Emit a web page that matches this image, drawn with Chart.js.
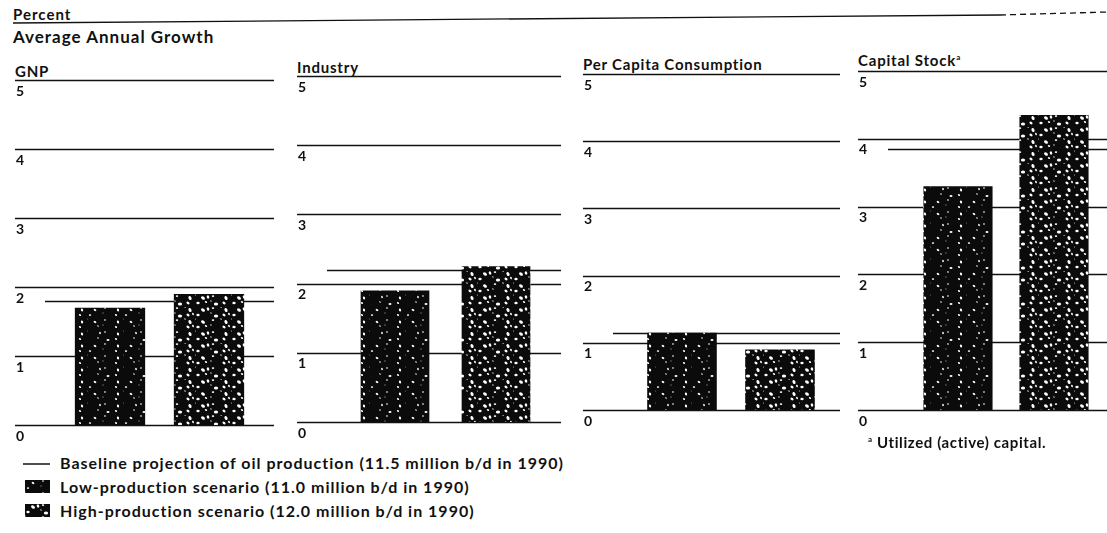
<!DOCTYPE html>
<html>
<head>
<meta charset="utf-8">
<script src="https://cdn.jsdelivr.net/npm/chart.js@4.4.1/dist/chart.umd.min.js"></script>
<style>
  html, body { margin: 0; padding: 0; background: #fff; }
  body { width: 1107px; height: 533px; position: relative; overflow: hidden; font-family: Lato, "DejaVu Sans", sans-serif; font-weight: bold; color: #111; }
  .t { position: absolute; white-space: nowrap; line-height: 1; }
  .leg { font-size: 16px; letter-spacing: 1px; }
  canvas.panel { position: absolute; top: 55px; }
  svg { position: absolute; left: 0; top: 0; }
  sup { font-size: 8px; vertical-align: 6px; }
</style>
</head>
<body>
<svg width="1107" height="533">
  <line x1="13" y1="23" x2="1000" y2="15" stroke="#111" stroke-width="1.3" />
  <line x1="1000" y1="15" x2="1107" y2="12" stroke="#111" stroke-width="1.3" stroke-dasharray="6 4" />
  <line x1="23" y1="464" x2="50" y2="464" stroke="#111" stroke-width="1.5" />
</svg>

<div class="t" style="left:13px; top:7px; font-size:15px; letter-spacing:1px;">Percent</div>
<div class="t" style="left:13px; top:28px; font-size:17px; letter-spacing:1px;">Average Annual Growth</div>

<div id="titles"></div>

<canvas class="panel" id="p0"></canvas>
<canvas class="panel" id="p1"></canvas>
<canvas class="panel" id="p2"></canvas>
<canvas class="panel" id="p3"></canvas>

<canvas id="swLow" width="25" height="13" style="position:absolute; left:25px; top:480px;"></canvas>
<canvas id="swHigh" width="25" height="13" style="position:absolute; left:25px; top:504px;"></canvas>
<div class="t leg" style="left:60px; top:455px;">Baseline projection of oil production (11.5 million b/d in 1990)</div>
<div class="t leg" style="left:60px; top:479px;">Low-production scenario (11.0 million b/d in 1990)</div>
<div class="t leg" style="left:60px; top:503px;">High-production scenario (12.0 million b/d in 1990)</div>

<div class="t" style="left:868px; top:435px; font-size:15px; letter-spacing:0.6px;"><sup>a</sup> Utilized (active) capital.</div>

<script>
// Average annual growth, percent
const panelTitles = ['GNP', 'Industry', 'Per Capita Consumption', 'Capital Stock'];
const scenarios = ['Low-production', 'High-production'];
const lowProduction = [1.7, 1.9, 1.15, 3.3];
const highProduction = [1.9, 2.25, 0.9, 4.35];
const baselineProjection = [1.8, 2.2, 1.15, 3.85];
const yTicks = [0, 1, 2, 3, 4, 5];

// page layout of each panel (the scan is a little skewed, so each one differs)
const panelLayout = [
  { left: 15,  width: 259, titleTop: 64, pad: { left: 45.5, right: 15.5, top: 25, bottom: 20 }, bar: 0.71 },
  { left: 297, width: 264, titleTop: 60, pad: { left: 47.5, right: 14.5, top: 21, bottom: 23 }, bar: 0.68 },
  { left: 583, width: 257, titleTop: 57, pad: { left: 50,   right: 11,   top: 19, bottom: 35 }, bar: 0.71 },
  { left: 858, width: 249, titleTop: 53, pad: { left: 52,   right: 5,    top: 16, bottom: 35 }, bar: 0.72 },
];

// speckled black fill like the printed bars
function speckle(skip, r0, dr) {
  const c = document.createElement('canvas');
  c.width = 36; c.height = 36;
  const g = c.getContext('2d');
  g.fillStyle = '#0b0b0b';
  g.fillRect(0, 0, 36, 36);
  g.fillStyle = '#fff';
  for (let r = 0; r < 6; r++) {
    for (let k = 0; k < 6; k++) {
      const n = r * 6 + k;
      if ((n * 11) % 7 < skip) continue;
      const x = k * 6 + (r % 2) * 3 + ((n * 5) % 3);
      const y = r * 6 + ((n * 7) % 4);
      const rad = r0 + ((n * 3) % 4) * dr;
      g.beginPath();
      g.ellipse(x, y, rad, rad * 0.7, (n % 3) * 0.6, 0, Math.PI * 2);
      g.fill();
    }
  }
  return g.createPattern(c, 'repeat');
}

const lowFill = speckle(3, 0.6, 0.3);
const highFill = speckle(1, 0.8, 0.45);

function fillSwatch(id, pat) {
  const g = document.getElementById(id).getContext('2d');
  g.fillStyle = pat;
  g.fillRect(0, 0, 25, 13);
}
fillSwatch('swLow', lowFill);
fillSwatch('swHigh', highFill);

// gridlines, baseline and tick labels drawn from the y scale
const gridPlugin = {
  id: 'gridPlugin',
  beforeDatasetsDraw(chart) {
    const { ctx, scales: { y } } = chart;
    const i = chart.options.panelIndex;
    ctx.save();
    ctx.strokeStyle = '#111';
    ctx.lineWidth = 1.4;
    yTicks.forEach(v => {
      const py = Math.round(y.getPixelForValue(v)) + 0.5;
      ctx.beginPath();
      ctx.moveTo(0, py);
      ctx.lineTo(chart.width, py);
      ctx.stroke();
    });
    const by = Math.round(y.getPixelForValue(baselineProjection[i])) + 0.5;
    ctx.beginPath();
    ctx.moveTo(30, by);
    ctx.lineTo(chart.width, by);
    ctx.stroke();
    ctx.restore();
  },
  afterDraw(chart) {
    const { ctx, scales: { y } } = chart;
    ctx.save();
    ctx.fillStyle = '#111';
    ctx.font = 'bold 14px Lato';
    ctx.textAlign = 'left';
    ctx.textBaseline = 'top';
    yTicks.forEach(v => {
      ctx.fillText(String(v), 1, y.getPixelForValue(v) + 4);
    });
    ctx.restore();
  },
};

const titles = document.getElementById('titles');
panelTitles.forEach((name, i) => {
  const lay = panelLayout[i];
  const d = document.createElement('div');
  d.className = 't';
  d.style.left = lay.left + 'px';
  d.style.top = lay.titleTop + 'px';
  d.style.fontSize = '15px';
  d.style.letterSpacing = '0.8px';
  d.innerHTML = name + (i === 3 ? '<sup>a</sup>' : '');
  titles.appendChild(d);

  const cv = document.getElementById('p' + i);
  cv.width = lay.width;
  cv.height = 390;
  cv.style.left = lay.left + 'px';

  new Chart(cv, {
    type: 'bar',
    data: {
      labels: scenarios,
      datasets: [{
        data: [lowProduction[i], highProduction[i]],
        backgroundColor: [lowFill, highFill],
        borderWidth: 0,
        categoryPercentage: 1,
        barPercentage: lay.bar,
      }],
    },
    options: {
      panelIndex: i,
      responsive: false,
      animation: false,
      layout: { padding: lay.pad },
      scales: {
        x: { display: false },
        y: { display: false, min: 0, max: 5 },
      },
      plugins: {
        legend: { display: false },
        tooltip: { enabled: false },
      },
    },
    plugins: [gridPlugin],
  });
});
</script>
</body>
</html>
